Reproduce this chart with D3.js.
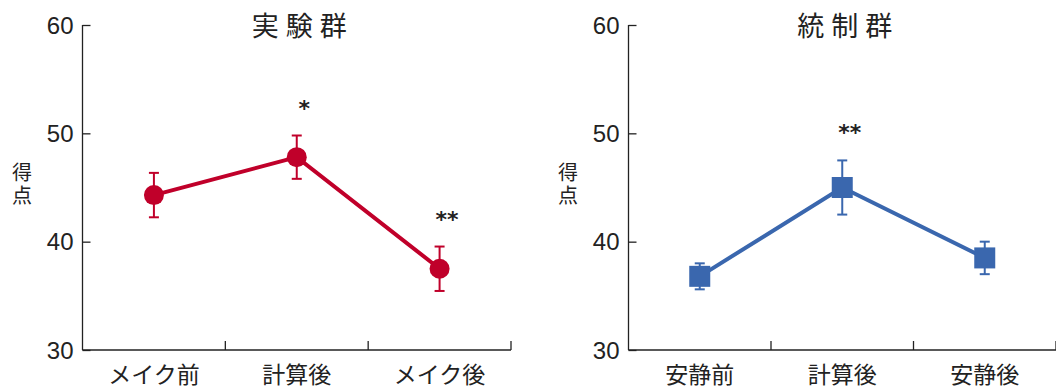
<!DOCTYPE html>
<html>
<head>
<meta charset="utf-8">
<script src="https://cdn.jsdelivr.net/npm/d3@7"></script>
<style>
  body { margin: 0; background: #fff; }
  text { font-family: "Noto Sans CJK JP", "Noto Sans", sans-serif; fill: #222; }
</style>
</head>
<body>
<div id="chart"></div>
<script>
// data
var expCats = ["メイク前", "計算後", "メイク後"];
var expMeans = [44.3, 47.8, 37.5];
var expErrs = [2.05, 2.0, 2.05];
var expStars = ["", "*", "**"];

var ctrlCats = ["安静前", "計算後", "安静後"];
var ctrlMeans = [36.8, 45.0, 38.5];
var ctrlErrs = [1.2, 2.5, 1.5];
var ctrlStars = ["", "**", ""];

var yTicks = [30, 40, 50, 60];

var svg = d3.select("#chart").append("svg")
    .attr("width", 1056)
    .attr("height", 390)

function panel(opt) {
    var y = d3.scaleLinear()
        .domain([30, 60])
        .range([350, 25]);

    var x = d3.scaleBand()
        .domain(opt.cats)
        .range([opt.left, opt.right]);

    var g = svg.append("g");

    var rows = opt.cats.map(function (c, i) {
        return { cat: c, mean: opt.means[i], err: opt.errs[i], star: opt.stars[i] };
    });

    //y-axis (ticks pointing inside)
    var yAxisCall = d3.axisRight(y).tickValues(yTicks).tickSize(8).tickFormat("");
    g.append("g")
        .attr("transform", "translate(" + opt.left + ",0)")
        .call(yAxisCall)
        .call(function (a) { a.select(".domain").attr("d", "M0,25V350"); })
        .selectAll("line").attr("stroke", "#222").attr("stroke-width", 1.3);
    g.selectAll(".domain").attr("stroke", "#222").attr("stroke-width", 1.3);

    g.selectAll(".ylab").data(yTicks).enter().append("text")
        .attr("x", opt.left - 9)
        .attr("y", function (d) { return y(d); })
        .attr("dy", "0.36em")
        .attr("text-anchor", "end")
        .style("font-size", "24px")
        .style("font-family", "'Liberation Sans', sans-serif")
        .text(function (d) { return d; });

    //x-axis: ticks at band edges, pointing up
    var edges = opt.cats.map(function (c) { return x(c); }).concat([opt.right]);
    g.append("line")
        .attr("x1", opt.left).attr("x2", opt.right)
        .attr("y1", y(30)).attr("y2", y(30))
        .attr("stroke", "#222").attr("stroke-width", 1.5);
    g.selectAll(".xtick").data(edges.slice(1)).enter().append("line")
        .attr("x1", function (d) { return d; })
        .attr("x2", function (d) { return d; })
        .attr("y1", y(30)).attr("y2", y(30) - 9)
        .attr("stroke", "#222").attr("stroke-width", 1.3);

    g.selectAll(".xlab").data(opt.cats).enter().append("text")
        .attr("x", function (d) { return x(d) + x.bandwidth() / 2; })
        .attr("y", 383)
        .attr("text-anchor", "middle")
        .style("font-size", "23px")
        .text(function (d) { return d; });

    // title
    g.append("text")
        .attr("x", x(opt.cats[1]) + x.bandwidth() / 2 + 6)
        .attr("y", 36)
        .attr("text-anchor", "middle")
        .style("font-size", "27px")
        .style("letter-spacing", "7px")
        .text(opt.title);

    // y label, written vertically
    g.append("text")
        .attr("x", opt.labelX)
        .attr("y", 185)
        .attr("text-anchor", "middle")
        .style("writing-mode", "vertical-rl")
        .style("letter-spacing", "3px")
        .style("font-size", "20px")
        .text("得点");

    var cx = function (d) { return x(d.cat) + x.bandwidth() / 2; };

    var valueline = d3.line()
        .x(cx)
        .y(function (d) { return y(d.mean); });

    g.append("path")
        .datum(rows)
        .attr("d", valueline)
        .attr("fill", "none")
        .attr("stroke", opt.color)
        .attr("stroke-width", 4);

    // error bars
    var eb = g.selectAll(".eb").data(rows).enter().append("g");
    eb.append("line")
        .attr("x1", cx).attr("x2", cx)
        .attr("y1", function (d) { return y(d.mean + d.err); })
        .attr("y2", function (d) { return y(d.mean - d.err); })
        .attr("stroke", opt.color).attr("stroke-width", 2);
    [1, -1].forEach(function (s) {
        eb.append("line")
            .attr("x1", function (d) { return cx(d) - 5; })
            .attr("x2", function (d) { return cx(d) + 5; })
            .attr("y1", function (d) { return y(d.mean + s * d.err); })
            .attr("y2", function (d) { return y(d.mean + s * d.err); })
            .attr("stroke", opt.color).attr("stroke-width", 2);
    });

    // markers
    if (opt.shape == "circle") {
        g.selectAll(".pt").data(rows).enter().append("circle")
            .attr("cx", cx)
            .attr("cy", function (d) { return y(d.mean); })
            .attr("r", 10)
            .attr("fill", opt.color);
    } else {
        g.selectAll(".pt").data(rows).enter().append("rect")
            .attr("x", function (d) { return cx(d) - 10.5; })
            .attr("y", function (d) { return y(d.mean) - 10.5; })
            .attr("width", 21)
            .attr("height", 21)
            .attr("fill", opt.color);
    }

    // significance stars
    g.selectAll(".star").data(rows.filter(function (d) { return d.star; })).enter().append("text")
        .attr("x", function (d) { return cx(d) + 7.5; })
        .attr("y", function (d) { return y(d.mean + d.err) - 20; })
        .attr("text-anchor", "middle")
        .style("font-size", "22px")
        .style("font-weight", "bold")
        .style("font-family", "'DejaVu Sans', sans-serif")
        .text(function (d) { return d.star; });
}

panel({ cats: expCats, means: expMeans, errs: expErrs, stars: expStars,
        left: 82.5, right: 511, color: "#c0002a", shape: "circle",
        title: "実験群", labelX: 22 });
panel({ cats: ctrlCats, means: ctrlMeans, errs: ctrlErrs, stars: ctrlStars,
        left: 628.5, right: 1056, color: "#3a67ae", shape: "square",
        title: "統制群", labelX: 568 });
</script>
</body>
</html>
